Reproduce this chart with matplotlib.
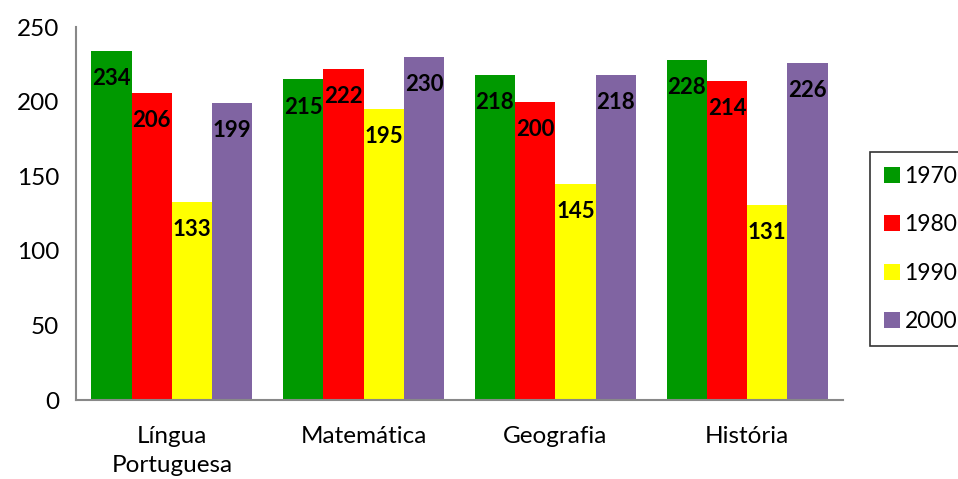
import numpy as np
import matplotlib.pyplot as plt

plt.rcParams['font.family'] = ['Lato', 'DejaVu Sans']

categories = ['Língua\nPortuguesa', 'Matemática', 'Geografia', 'História']
years = ['1970', '1980', '1990', '2000']
values_1970 = [234, 215, 218, 228]
values_1980 = [206, 222, 200, 214]
values_1990 = [133, 195, 145, 131]
values_2000 = [199, 230, 218, 226]
colors = ['#009900', '#FF0000', '#FFFF00', '#8064A2']
y_ticks = [0, 50, 100, 150, 200, 250]


def main():
    series = [values_1970, values_1980, values_1990, values_2000]

    figure = plt.figure(figsize=(9.58, 4.79), dpi=100)
    axis = figure.add_axes([0.0793, 0.1649, 0.8007, 0.7787])

    x = np.arange(len(categories))
    width = 0.21

    for i, (year, values) in enumerate(zip(years, series)):
        offsets = x + (i - 1.5) * width
        bars = axis.bar(offsets, values, width, color=colors[i], label=year)
        for bar, value in zip(bars, values):
            axis.annotate(str(value),
                          (bar.get_x() + bar.get_width() / 2, value),
                          xytext=(0, -20), textcoords='offset points',
                          ha='center', va='center',
                          fontsize=16, fontweight='bold', color='black')

    axis.set_xlim(-0.5, len(categories) - 0.5)
    axis.set_ylim(0, 250)
    axis.set_yticks(y_ticks)
    axis.set_xticks(x)
    axis.set_xticklabels(categories, linespacing=1.45)
    axis.tick_params(axis='both', length=0, labelsize=17.5)
    axis.tick_params(axis='x', pad=19)
    axis.tick_params(axis='y', pad=12)

    for side in ['top', 'right']:
        axis.spines[side].set_visible(False)
    for side in ['left', 'bottom']:
        axis.spines[side].set_color('#888888')
        axis.spines[side].set_linewidth(1.5)

    legend = figure.legend(loc='upper left',
                           bbox_to_anchor=(870 / 958, 1 - 152 / 479),
                           fontsize=16.5, frameon=True, fancybox=False,
                           handlelength=0.7, handleheight=0.7,
                           handletextpad=0.2, labelspacing=1.2,
                           borderpad=0.6, borderaxespad=0)
    legend.get_frame().set_edgecolor('black')
    legend.get_frame().set_linewidth(1.2)

    figure.savefig('out.png', dpi=100)


if __name__ == '__main__':
    main()
